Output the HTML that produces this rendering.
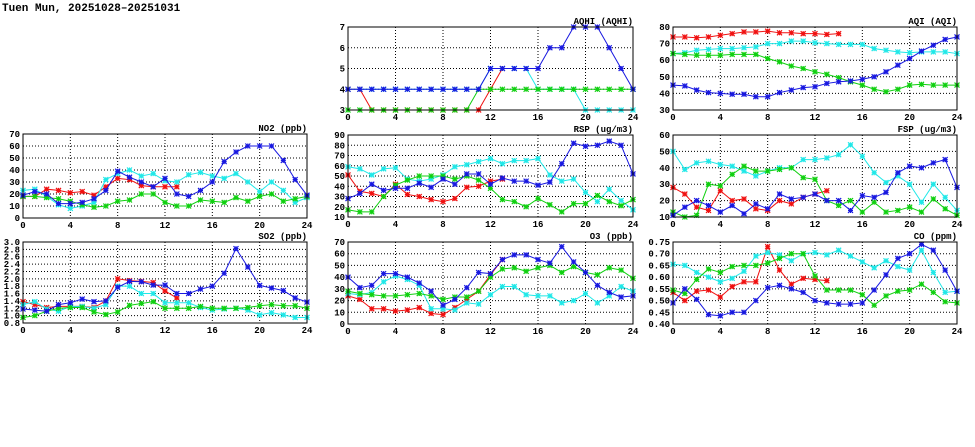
<!DOCTYPE html>
<html><head><meta charset="utf-8"><style>
html,body{margin:0;padding:0;background:#fff;}
svg{display:block;}
text{font-family:"Liberation Mono","DejaVu Sans Mono",monospace;font-weight:bold;font-size:9px;fill:#000;}
</style></head><body>
<svg id="s" width="975" height="447" xmlns="http://www.w3.org/2000/svg">
<text x="2" y="11" style="font-size:11px">Tuen Mun, 20251028–20251031</text>
</svg>
<script>
const S=document.getElementById('s');
const NS='http://www.w3.org/2000/svg';
function el(t,a,txt){const e=document.createElementNS(NS,t);for(const k in a)e.setAttribute(k,a[k]);if(txt!==undefined)e.textContent=txt;S.appendChild(e);return e;}
const C={r:'#f01010',c:'#20e8e8',g:'#10d010',b:'#1818e0'};
const panels=[
{t:'NO2 (ppb)',x0:23,x1:307,y0:134,y1:218,min:0,max:70,step:10,dec:0,d:{
r:[18,18,24,23,21,22,19,26,33,32,27,26,26,26],
c:[23,24,18,11,8,10,13,32,37,40,35,37,31,30,36,38,35,33,37,30,22,30,23,13,17],
g:[18,18,17,16,14,11,9,10,14,15,20,20,13,10,10,15,14,13,17,14,18,20,14,16,18],
b:[19,22,20,12,12,13,16,23,39,34,30,26,33,20,18,23,30,47,55,60,60,60,48,32,19]}},
{t:'SO2 (ppb)',x0:23,x1:307,y0:242,y1:323,min:0.8,max:3.0,step:0.2,dec:1,d:{
r:[1.38,1.3,1.22,1.25,1.25,1.25,1.22,1.4,2.0,1.95,1.93,1.9,1.67,1.48],
c:[1.3,1.38,1.18,1.12,1.25,1.25,1.2,1.3,1.8,1.8,1.6,1.6,1.35,1.35,1.35,1.22,1.15,1.18,1.2,1.15,1.02,1.08,1.02,0.95,0.95],
g:[0.95,1.0,1.12,1.2,1.22,1.22,1.1,1.03,1.1,1.28,1.33,1.38,1.2,1.2,1.2,1.25,1.2,1.2,1.2,1.22,1.27,1.3,1.27,1.27,1.2],
b:[1.18,1.15,1.12,1.3,1.35,1.45,1.38,1.4,1.77,1.93,1.92,1.83,1.83,1.6,1.6,1.72,1.8,2.15,2.82,2.32,1.82,1.75,1.68,1.48,1.37]}},
{t:'AQHI (AQHI)',x0:348,x1:633,y0:27,y1:110,min:3,max:7,step:1,dec:0,d:{
r:[4,4,3,3,3,3,3,3,3,3,3,3,4,5],
c:[4,4,4,4,4,4,4,4,4,4,4,4,5,5,5,5,4,4,4,4,3,3,3,3,3],
g:[3,3,3,3,3,3,3,3,3,3,3,4,4,4,4,4,4,4,4,4,4,4,4,4,4],
b:[4,4,4,4,4,4,4,4,4,4,4,4,5,5,5,5,5,6,6,7,7,7,6,5,4]}},
{t:'RSP (ug/m3)',x0:348,x1:633,y0:135,y1:217,min:10,max:90,step:10,dec:0,d:{
r:[51,35,33,30,42,32,30,27,25,28,39,40,45,47],
c:[59,57,51,57,58,47,45,47,51,59,61,64,67,62,65,65,67,51,45,47,34,25,37,26,17],
g:[17,15,15,30,41,46,50,50,50,47,50,46,38,27,25,20,28,22,15,23,23,31,25,21,27],
b:[28,33,42,36,38,38,43,39,47,42,52,52,42,48,45,45,41,44,62,82,79,80,84,80,52]}},
{t:'O3 (ppb)',x0:348,x1:633,y0:242,y1:324,min:0,max:70,step:10,dec:0,d:{
r:[24,21,13,13,11,12,14,9,8,14,21,28,42,55],
c:[26,25,27,36,41,38,33,13,13,12,18,17,25,32,32,25,24,24,18,20,26,18,24,32,28],
g:[28,26,25,24,24,25,26,24,21,23,23,28,40,47,48,45,48,50,44,49,44,42,48,46,39],
b:[40,31,33,43,43,40,35,28,16,21,31,44,43,55,59,59,55,52,66,53,44,33,27,23,24]}},
{t:'AQI (AQI)',x0:673,x1:957,y0:27,y1:110,min:30,max:80,step:10,dec:0,d:{
r:[74,74,73.5,74,75,76,77,77,77.5,76.5,76.5,76,76,75.5,76],
c:[64,64.5,66,66.5,67,67,67.5,68,70,70,71.5,71.5,70.5,70,69.5,69.5,69.5,67,66,65,64.5,65,65,65,64],
g:[64,63.5,63,63,63,63.5,63.5,63.5,61,59,56.5,55,53,51.5,49.5,47,45,42.5,41,42.5,45,45.5,45,45,45],
b:[45,44.5,42,40.5,40,39.5,39.5,38,38,40.5,42,43.5,44,46,47,47.5,48.5,50,53,57,61,65.5,69,72.5,74]}},
{t:'FSP (ug/m3)',x0:673,x1:957,y0:135,y1:217,min:10,max:60,step:10,dec:0,d:{
r:[28,24,16,14,26,20,21,15,14,20,18,22,24,26],
c:[50,39,43,44,42,41,38,35,38,40,40,45,45,46,48,54,47,37,31,35,30,19,30,22,14],
g:[13,10,11,30,29,36,41,38,38,39,40,34,33,20,17,20,13,19,13,14,16,13,21,15,11],
b:[11,16,20,17,13,17,12,18,15,24,21,22,24,20,20,14,23,22,25,37,41,40,43,45,28]}},
{t:'CO (ppm)',x0:673,x1:957,y0:242,y1:324,min:0.40,max:0.75,step:0.05,dec:2,d:{
r:[.535,.50,.54,.545,.515,.56,.58,.58,.73,.63,.57,.595,.59,.585],
c:[.655,.65,.62,.60,.58,.595,.625,.69,.705,.695,.67,.70,.705,.695,.715,.69,.665,.64,.67,.645,.63,.715,.62,.535,.54],
g:[.545,.53,.59,.635,.62,.645,.65,.65,.66,.68,.70,.70,.605,.545,.545,.545,.525,.48,.52,.54,.545,.57,.535,.495,.49],
b:[.49,.55,.505,.44,.435,.45,.45,.50,.555,.565,.55,.535,.50,.49,.485,.485,.49,.545,.61,.68,.70,.74,.715,.63,.54]}}
];
for(const p of panels){
  const X=h=>p.x0+(p.x1-p.x0)*h/24;
  const Y=v=>p.y1-(p.y1-p.y0)*(v-p.min)/(p.max-p.min);
  const n=Math.round((p.max-p.min)/p.step);
  for(let i=0;i<=n;i++){
    const v=p.min+i*p.step,y=Y(v);
    if(i>0&&i<n)el('line',{x1:p.x0,x2:p.x1,y1:y,y2:y,stroke:'#000','stroke-width':1,'stroke-dasharray':'1,2'});
    el('text',{x:p.x0-3,y:y+3,'text-anchor':'end'},v.toFixed(p.dec));
  }
  for(let h=0;h<=24;h+=4){
    const x=X(h);
    if(h>0&&h<24)el('line',{x1:x,x2:x,y1:p.y0,y2:p.y1,stroke:'#000','stroke-width':1,'stroke-dasharray':'1,2'});
    el('text',{x:x,y:p.y1+10,'text-anchor':'middle'},h);
  }
  el('text',{x:p.x1,y:p.y0-3,'text-anchor':'end'},p.t);
  for(const k of ['r','c','g','b']){
    const a=p.d[k];
    el('polyline',{points:a.map((v,i)=>X(i)+','+Y(v)).join(' '),fill:'none',stroke:C[k],'stroke-width':1});
    a.forEach((v,i)=>{const x=X(i),y=Y(v),r=2.5;
      el('path',{d:`M${x-r},${y}H${x+r}M${x},${y-r}V${y+r}M${x-r},${y-r}L${x+r},${y+r}M${x-r},${y+r}L${x+r},${y-r}`,stroke:C[k],'stroke-width':1.2});
    });
  }
  el('rect',{x:p.x0,y:p.y0,width:p.x1-p.x0,height:p.y1-p.y0,fill:'none',stroke:'#000','stroke-width':1});
}
</script>
</body></html>
